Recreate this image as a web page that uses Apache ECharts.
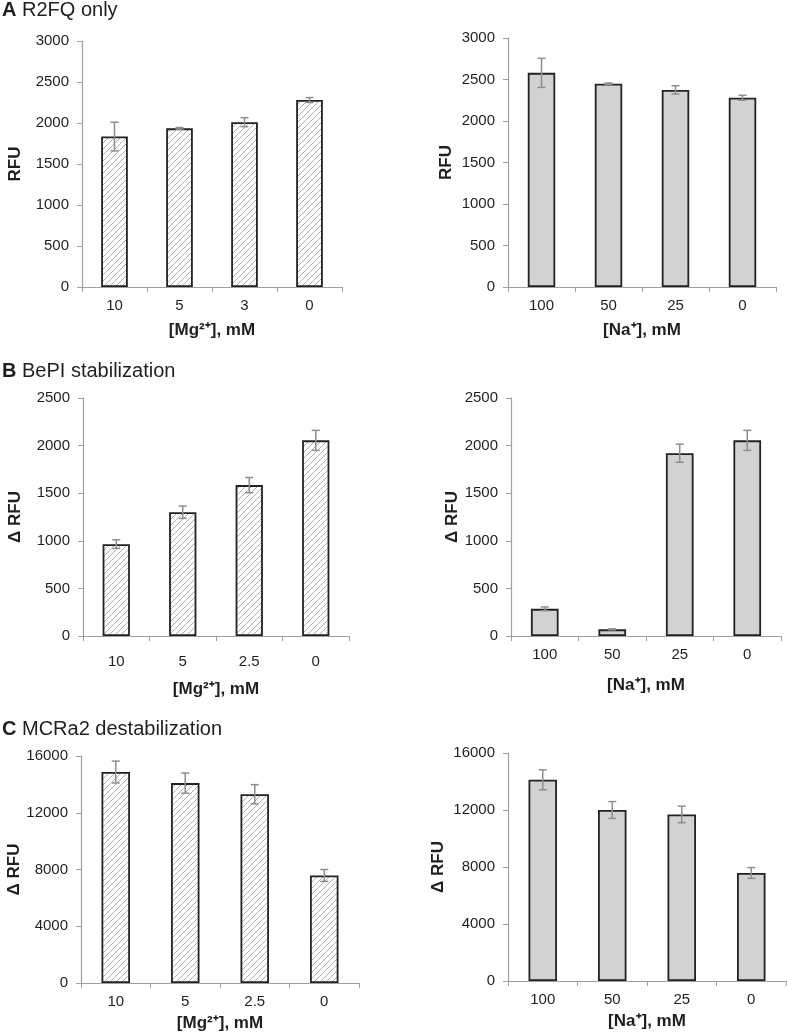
<!DOCTYPE html>
<html><head><meta charset="utf-8">
<script src="https://cdn.jsdelivr.net/npm/echarts@6/dist/echarts.min.js"></script>
<style>html,body{margin:0;padding:0;background:#fff}#c{width:787px;height:1034px}</style>
</head><body><div id="c"></div>
<script>
// ---- data ----
const mgCatsA = ['10', '5', '3', '0'];
const mgCatsBC = ['10', '5', '2.5', '0'];
const naCats = ['100', '50', '25', '0'];

const mgA_vals = [1835, 1935, 2010, 2280];
const mgA_err  = [175, 10, 55, 30];
const naA_vals = [2580, 2450, 2375, 2280];
const naA_err  = [175, 8, 50, 30];

const mgB_vals = [965, 1300, 1585, 2055];
const mgB_err  = [45, 65, 80, 105];
const naB_vals = [285, 70, 1920, 2055];
const naB_err  = [20, 5, 95, 105];

const mgC_vals = [14870, 14090, 13300, 7580];
const mgC_err  = [770, 710, 680, 420];
const naC_vals = [14120, 12000, 11690, 7580];
const naC_err  = [700, 590, 580, 380];

const yRFU = 'RFU';
const yDRFU = 'Δ RFU';
const xMg = '[Mg²⁺], mM';
const xNa = '[Na⁺], mM';

// ---- styling helpers ----
const FONT = 'Liberation Sans, Arial, sans-serif';
const TXT = '#1f1f1f';

function hatch() {
  const s = 6;
  const c = document.createElement('canvas');
  c.width = s; c.height = s;
  const g = c.getContext('2d');
  g.fillStyle = '#ffffff'; g.fillRect(0, 0, s, s);
  g.strokeStyle = '#b0b0b0'; g.lineWidth = 1;
  g.beginPath();
  g.moveTo(-1, s + 1); g.lineTo(s + 1, -1);
  g.moveTo(-1, 1); g.lineTo(1, -1);
  g.moveTo(s - 1, s + 1); g.lineTo(s + 1, s - 1);
  g.stroke();
  return c;
}
const hatchImg = hatch();

const panels = [
  {cats: mgCatsA, vals: mgA_vals, err: mgA_err, hatched: true,  max: 3000, iv: 500,  yName: yRFU,  xName: xMg,
   g: {left: 82, top: 41, width: 260, height: 246}, yGap: 58, lm: 11, xGap: 35},
  {cats: naCats,  vals: naA_vals, err: naA_err, hatched: false, max: 3000, iv: 500,  yName: yRFU,  xName: xNa,
   g: {left: 508, top: 38, width: 268, height: 249}, yGap: 53, lm: 11, xGap: 35},
  {cats: mgCatsBC, vals: mgB_vals, err: mgB_err, hatched: true,  max: 2500, iv: 500,  yName: yDRFU, xName: xMg,
   g: {left: 83, top: 398, width: 266, height: 238}, yGap: 59, lm: 18, xGap: 45},
  {cats: naCats,  vals: naB_vals, err: naB_err, hatched: false, max: 2500, iv: 500,  yName: yDRFU, xName: xNa,
   g: {left: 511, top: 398, width: 270, height: 238}, yGap: 49, lm: 11, xGap: 41},
  {cats: mgCatsBC, vals: mgC_vals, err: mgC_err, hatched: true,  max: 16000, iv: 4000, yName: yDRFU, xName: xMg,
   g: {left: 81, top: 756, width: 278, height: 227}, yGap: 48, lm: 11, xGap: 32},
  {cats: naCats,  vals: naC_vals, err: naC_err, hatched: false, max: 16000, iv: 4000, yName: yDRFU, xName: xNa,
   g: {left: 508, top: 753, width: 278, height: 228}, yGap: 61, lm: 11, xGap: 32}
];

const grid = [], xAxis = [], yAxis = [], series = [];
panels.forEach((p, i) => {
  grid.push(Object.assign({containLabel: false, outerBoundsMode: 'none'}, p.g));
  xAxis.push({
    type: 'category', gridIndex: i, data: p.cats,
    axisLine: {lineStyle: {color: '#a0a0a0', width: 1.2}},
    axisTick: {show: true, length: 5, lineStyle: {color: '#a0a0a0'}},
    axisLabel: {color: TXT, fontSize: 15, fontFamily: FONT, margin: p.lm},
    name: p.xName, nameLocation: 'middle', nameGap: p.xGap,
    nameTextStyle: {color: TXT, fontSize: 17, fontWeight: 'bold', fontFamily: FONT}
  });
  yAxis.push({
    type: 'value', gridIndex: i, min: 0, max: p.max, interval: p.iv,
    splitLine: {show: false},
    axisLine: {show: true, lineStyle: {color: '#a0a0a0', width: 1.2}},
    axisTick: {show: true, length: 5, lineStyle: {color: '#a0a0a0'}},
    axisLabel: {color: TXT, fontSize: 15, fontFamily: FONT, margin: 13, formatter: v => String(v)},
    name: p.yName, nameLocation: 'middle', nameGap: p.yGap, nameRotate: 90,
    nameTextStyle: {color: TXT, fontSize: 17, fontWeight: 'bold', fontFamily: FONT}
  });
  series.push({
    type: 'bar', xAxisIndex: i, yAxisIndex: i, data: p.vals, barWidth: '41%',
    itemStyle: {
      color: p.hatched ? {image: hatchImg, repeat: 'repeat'} : '#d2d2d2',
      borderColor: '#222222', borderWidth: 1.8
    },
    emphasis: {disabled: true}, silent: true
  });
  series.push({
    type: 'custom', xAxisIndex: i, yAxisIndex: i, z: 5, silent: true,
    data: p.vals.map((v, k) => [k, v - p.err[k], v + p.err[k]]),
    encode: {x: 0, y: [1, 2]},
    renderItem: (params, api) => {
      const hi = api.coord([api.value(0), api.value(2)]);
      const lo = api.coord([api.value(0), api.value(1)]);
      const w = 4;
      const st = {stroke: '#8e8e8e', lineWidth: 1.5};
      return {type: 'group', children: [
        {type: 'line', shape: {x1: hi[0], y1: hi[1], x2: lo[0], y2: lo[1]}, style: st},
        {type: 'line', shape: {x1: hi[0] - w, y1: hi[1], x2: hi[0] + w, y2: hi[1]}, style: st},
        {type: 'line', shape: {x1: lo[0] - w, y1: lo[1], x2: lo[0] + w, y2: lo[1]}, style: st}
      ]};
    }
  });
});

const titleRich = {
  b: {fontWeight: 'bold', fontSize: 20, color: TXT, fontFamily: FONT},
  n: {fontWeight: 'normal', fontSize: 20, color: TXT, fontFamily: FONT}
};
const title = [
  {text: '{b|A} {n|R2FQ only}', left: 2, top: 0},
  {text: '{b|B} {n|BePI stabilization}', left: 2, top: 361},
  {text: '{b|C} {n|MCRa2 destabilization}', left: 2, top: 719}
].map(t => Object.assign(t, {padding: 0,
  textStyle: {fontSize: 20, fontWeight: 'normal', fontFamily: FONT, color: TXT, rich: titleRich}}));

const chart = echarts.init(document.getElementById('c'), null, {renderer: 'canvas'});
chart.setOption({animation: false, backgroundColor: '#fff', title, grid, xAxis, yAxis, series});
</script>
</body></html>
